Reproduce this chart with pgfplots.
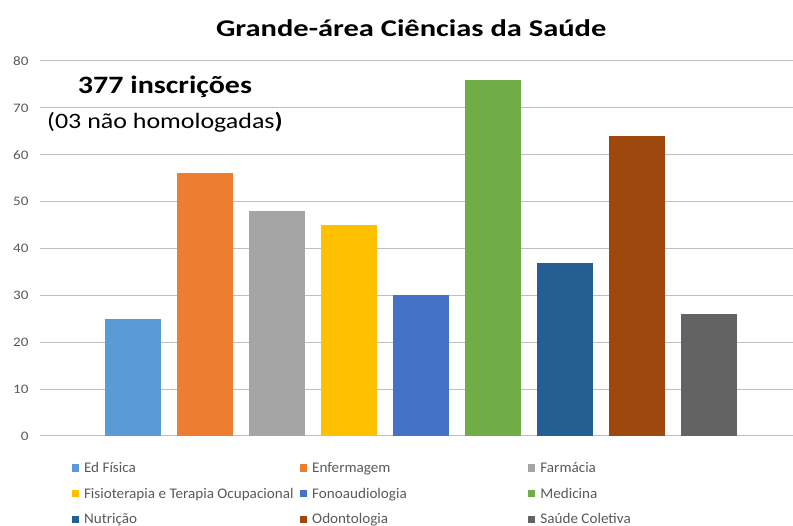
\documentclass[border=0pt]{standalone}
\usepackage{pgfplots}
\pgfplotsset{compat=1.18}
\usepackage{fontspec}
\setmainfont{Carlito}
\newfontfamily\titlefont{Carlito}[FakeStretch=1.27]
\newfontfamily\annfont{Carlito}[FakeStretch=1.2]
\newfontfamily\annregfont{Carlito}[FakeStretch=1.18]
\newfontfamily\tickfont{Carlito}[FakeStretch=1.16]
\newfontfamily\legfont{Carlito}[FakeStretch=1.03]
\definecolor{c1}{HTML}{5B9BD5}
\definecolor{c2}{HTML}{ED7D31}
\definecolor{c3}{HTML}{A5A5A5}
\definecolor{c4}{HTML}{FFC000}
\definecolor{c5}{HTML}{4472C4}
\definecolor{c6}{HTML}{70AD47}
\definecolor{c7}{HTML}{255E91}
\definecolor{c8}{HTML}{9E480E}
\definecolor{c9}{HTML}{636363}
\definecolor{tick}{HTML}{595959}
\definecolor{grid}{HTML}{D9D9D9}
\newcommand{\lb}[1]{\makebox[217pt][l]{\hspace*{3pt}#1}}
\begin{document}
\begin{tikzpicture}
\useasboundingbox (0,0) rectangle (793pt,526pt);
\begin{axis}[
  at={(40pt,90pt)}, anchor=south west,
  scale only axis, width=753pt, height=375pt,
  xmin=-1.292, xmax=9.17,
  ymin=0, ymax=80,
  ytick={0,10,...,80},
  xtick=\empty,
  axis line style={draw=none},
  major tick length=0pt,
  ymajorgrids, grid style={grid, line width=1pt},
  yticklabel style={font=\tickfont\fontsize{13}{15}\selectfont, text=tick, xshift=-8pt},
  /pgf/number format/assume math mode=true,
  ybar, bar width=0.778, bar shift=0pt,
  title={\bfseries Grande-área Ciências da Saúde},
  title style={at={(0.493,1.072)}, anchor=center, font=\titlefont\fontsize{24}{27}\selectfont},
  legend columns=3,
  legend image code/.code={\fill[#1] (0pt,-3.6pt) rectangle (7.2pt,3.6pt);},
  legend style={draw=none, fill=none, at={(0.042,-0.064)}, anchor=north west,
    font=\legfont\fontsize{14.7}{17}\selectfont, text=tick,
    /tikz/every even column/.append style={column sep=0pt},
    row sep=10pt, inner sep=0pt},
  legend cell align=left,
  clip=false,
]
\addplot[fill=c1, draw=none] coordinates {(0,25)};
\addlegendentry{\lb{Ed Física}}
\addplot[fill=c2, draw=none] coordinates {(1,56)};
\addlegendentry{\lb{Enfermagem}}
\addplot[fill=c3, draw=none] coordinates {(2,48)};
\addlegendentry{\lb{Farmácia}}
\addplot[fill=c4, draw=none] coordinates {(3,45)};
\addlegendentry{\lb{Fisioterapia e Terapia Ocupacional}}
\addplot[fill=c5, draw=none] coordinates {(4,30)};
\addlegendentry{\lb{Fonoaudiologia}}
\addplot[fill=c6, draw=none] coordinates {(5,76)};
\addlegendentry{\lb{Medicina}}
\addplot[fill=c7, draw=none] coordinates {(6,37)};
\addlegendentry{\lb{Nutrição}}
\addplot[fill=c8, draw=none] coordinates {(7,64)};
\addlegendentry{\lb{Odontologia}}
\addplot[fill=c9, draw=none] coordinates {(8,26)};
\addlegendentry{\lb{Saúde Coletiva}}
\node[font=\annfont\fontsize{25}{28}\selectfont\bfseries, anchor=center] at (rel axis cs:0.166,0.932) {377 inscrições};
\node[font=\annregfont\fontsize{22}{25}\selectfont, anchor=center] at (rel axis cs:0.166,0.838) {(03 não homologadas\textbf{)}};
\end{axis}
\end{tikzpicture}
\end{document}
